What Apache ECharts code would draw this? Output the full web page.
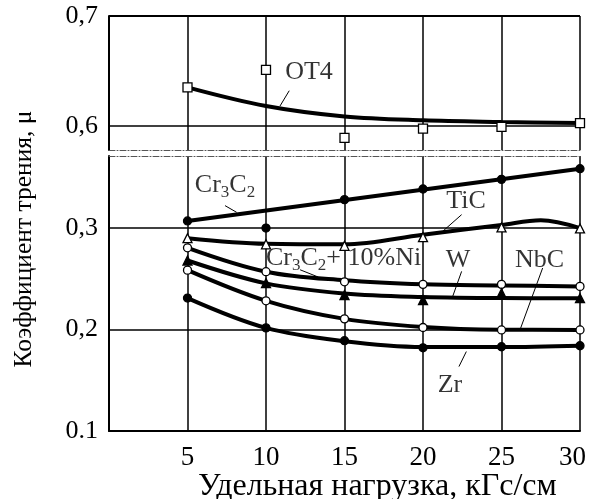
<!DOCTYPE html>
<html>
<head>
<meta charset="utf-8">
<script src="https://cdn.jsdelivr.net/npm/echarts@6/dist/echarts.min.js"></script>
<style>
  html, body { margin: 0; padding: 0; background: #fff; }
  #chart { width: 598px; height: 499px; }
</style>
</head>
<body>
<div id="chart"></div>
<script>
// Specific load, kgf/cm
const loads = [5, 10, 15, 20, 25, 30];
const xTickLabels = [5, 10, 15, 20, 25, 30];
const upperTicks = [0.6, 0.7];
const lowerTicks = [0.1, 0.2, 0.3];

// Measured friction coefficients at each load
const ot4Pts   = [0.635, 0.651, 0.589, 0.5975, 0.599, 0.6025];
const cr3c2Pts = [0.307, 0.300, 0.328, 0.3385, 0.348, 0.3585];
const ticPts   = [0.290, 0.284, 0.2825, 0.291, 0.3006, 0.2996];
const niPts    = [0.2805, 0.257, 0.247, 0.2445, 0.2445, 0.2425];
const wPts     = [0.268, 0.2457, 0.234, 0.229, 0.2357, 0.2309];
const nbcPts   = [0.2585, 0.2283, 0.2105, 0.202, 0.1996, 0.1996];
const zrPts    = [0.231, 0.2016, 0.189, 0.182, 0.183, 0.184];

// Fitted trend curves, [load, μ]
const ot4Fit   = [[5, 0.635], [10, 0.618], [15, 0.6085], [20, 0.605], [25, 0.6035], [30, 0.6025]];
const cr3c2Fit = [[5, 0.307], [30, 0.3585]];
const ticFit   = [[5, 0.290], [10, 0.2845], [15, 0.284], [20, 0.2935], [25, 0.303], [27.5, 0.3077], [30, 0.300]];
const niFit    = [[5, 0.2805], [10, 0.257], [15, 0.2485], [20, 0.2445], [25, 0.2435], [30, 0.2425]];
const wFit     = [[5, 0.268], [10, 0.2455], [15, 0.2355], [20, 0.232], [25, 0.231], [30, 0.2309]];
const nbcFit   = [[5, 0.2585], [10, 0.2283], [15, 0.2105], [20, 0.2025], [25, 0.1998], [30, 0.1996]];
const zrFit    = [[5, 0.231], [10, 0.2016], [15, 0.1885], [20, 0.1828], [25, 0.1827], [30, 0.184]];

// Curve captions and their leader lines, in data units
const upperNotes = [{ text: 'OT4', at: [12.74, 0.649] }];
const lowerNotes = [
  { text: 'Cr{s|3}C{s|2}', at: [7.39, 0.3425] },
  { text: 'TiC', at: [22.74, 0.326] },
  { text: 'Cr{s|3}C{s|2}+ 10%Ni', at: [14.94, 0.2705] },
  { text: 'W', at: [22.23, 0.2688] },
  { text: 'NbC', at: [27.42, 0.2688] },
  { text: 'Zr', at: [21.72, 0.1454] }
];
const upperLeaders = [[[11.48, 0.632], [10.89, 0.618]]];
const lowerLeaders = [
  [[7.39, 0.3221], [8.13, 0.3155]],
  [[22.46, 0.3132], [21.25, 0.2967]],
  [[12.17, 0.2589], [13.33, 0.2517]],
  [[22.46, 0.2573], [21.89, 0.2326]],
  [[27.62, 0.2606], [26.22, 0.2014]],
  [[22.76, 0.1783], [22.29, 0.1635]]
];

const FONT = '"Liberation Serif", "Times New Roman", serif';
const INK = '#000';
const dashDot = { color: '#555', width: 1, type: [6, 2, 1, 2] };

const pairs = arr => loads.map((x, i) => [x, arr[i]]);
const axisIdx = g => ({ xAxisIndex: g === 0 ? 0 : 1, yAxisIndex: g });

function curve(data, g) {
  return Object.assign({
    type: 'line', data, smooth: 0.35, symbol: 'none', silent: true,
    lineStyle: { color: INK, width: 4 }, z: 3
  }, axisIdx(g));
}
function markers(vals, g, symbol, filled, size) {
  return Object.assign({
    type: 'scatter', data: pairs(vals), symbol, symbolSize: size, silent: true,
    itemStyle: { color: filled ? INK : '#fff', borderColor: INK, borderWidth: 1.3, opacity: 1 },
    z: 5
  }, axisIdx(g));
}
function leader(seg, g) {
  return Object.assign({
    type: 'line', data: seg, symbol: 'none', silent: true,
    lineStyle: { color: INK, width: 1 }, z: 4
  }, axisIdx(g));
}
function notes(list, g) {
  return Object.assign({
    type: 'scatter', symbolSize: 1, silent: true,
    itemStyle: { color: 'transparent' },
    data: list.map(n => ({ value: n.at, label: { formatter: n.text } })),
    label: {
      show: true, position: 'inside', color: INK, fontFamily: FONT, fontSize: 26, lineHeight: 32,
      rich: { s: { fontFamily: FONT, fontSize: 17, lineHeight: 18, verticalAlign: 'bottom', color: INK } }
    },
    z: 6
  }, axisIdx(g));
}
function gridLines(values, g, widthFor) {
  return Object.assign({
    type: 'line', data: [], silent: true, symbol: 'none',
    markLine: {
      silent: true, symbol: 'none', label: { show: false },
      data: values.map(v => ({ yAxis: v, lineStyle: { color: INK, width: widthFor(v), type: 'solid' } }))
    },
    z: 1
  }, axisIdx(g));
}

const tickFmt = v => (Math.abs(v - 0.1) < 1e-9 ? '0.1' : v.toFixed(1).replace('.', ','));
// the last load label is pulled inward so it stays inside the canvas
const xFmt = v => (v === 0 ? '' : (v === xTickLabels[xTickLabels.length - 1] ? '{last|' + v + '}' : String(v)));

const yLabel = (ticks, padTop) => ({
  show: true, customValues: ticks, margin: 11, color: INK, fontFamily: FONT, fontSize: 26,
  padding: [padTop, 0, 0, 0], formatter: tickFmt
});

const option = {
  animation: false,
  backgroundColor: '#fff',
  grid: [
    { left: 109, right: 18, top: 16, height: 134 },
    { left: 109, right: 18, top: 156, height: 275 }
  ],
  xAxis: [
    { gridIndex: 0, type: 'value', min: 0, max: 30, interval: 5, position: 'bottom',
      axisLine: { show: true, lineStyle: dashDot }, axisTick: { show: false }, axisLabel: { show: false },
      splitLine: { show: true, lineStyle: { color: INK, width: 1.5 } } },
    { gridIndex: 1, type: 'value', min: 0, max: 30, interval: 5, position: 'bottom',
      axisLine: { show: true, lineStyle: { color: INK, width: 2 } }, axisTick: { show: false },
      axisLabel: { show: true, margin: 13, color: INK, fontFamily: FONT, fontSize: 27, formatter: xFmt,
        rich: { last: { fontFamily: FONT, fontSize: 27, color: INK, padding: [0, 15, 0, 0] } } },
      splitLine: { show: true, lineStyle: { color: INK, width: 1.5 } } },
    { gridIndex: 1, type: 'value', min: 0, max: 30, interval: 5, position: 'top',
      axisLine: { show: true, lineStyle: dashDot }, axisTick: { show: false }, axisLabel: { show: false },
      splitLine: { show: false } }
  ],
  yAxis: [
    { gridIndex: 0, type: 'value', min: 0.578, max: 0.7,
      axisLine: { show: true, lineStyle: { color: INK, width: 2 } }, axisTick: { show: false },
      axisLabel: yLabel(upperTicks, 9),
      splitLine: { show: false } },
    { gridIndex: 1, type: 'value', min: 0.1, max: 0.371,
      axisLine: { show: true, lineStyle: { color: INK, width: 2 } }, axisTick: { show: false },
      axisLabel: yLabel(lowerTicks, 2),
      splitLine: { show: false } }
  ],
  series: [
    gridLines(upperTicks, 0, v => (v === 0.7 ? 2 : 1.5)),
    gridLines(lowerTicks.filter(v => v > 0.1), 1, () => 1.5),

    curve(ot4Fit, 0),
    curve(cr3c2Fit, 1),
    curve(ticFit, 1),
    curve(niFit, 1),
    curve(wFit, 1),
    curve(nbcFit, 1),
    curve(zrFit, 1),

    ...upperLeaders.map(s => leader(s, 0)),
    ...lowerLeaders.map(s => leader(s, 1)),

    markers(ot4Pts, 0, 'rect', false, 9),
    markers(cr3c2Pts, 1, 'circle', true, 8),
    markers(ticPts, 1, 'triangle', false, 9),
    markers(niPts, 1, 'circle', false, 8),
    markers(wPts, 1, 'triangle', true, 9),
    markers(nbcPts, 1, 'circle', false, 8),
    markers(zrPts, 1, 'circle', true, 8),

    notes(upperNotes, 0),
    notes(lowerNotes, 1)
  ],
  graphic: [
    { type: 'text', left: 198, top: 471, silent: true,
      style: { text: 'Удельная нагрузка, кГс/см', font: '32px ' + FONT, fill: INK } },
    { type: 'text', x: 24, y: 239, rotation: Math.PI / 2, silent: true,
      style: { text: 'Коэффициент трения, μ', font: '25.5px ' + FONT, fill: INK,
        align: 'center', verticalAlign: 'middle' } }
  ]
};

const chart = echarts.init(document.getElementById('chart'), null, { renderer: 'canvas' });
chart.setOption(option);
</script>
</body>
</html>
